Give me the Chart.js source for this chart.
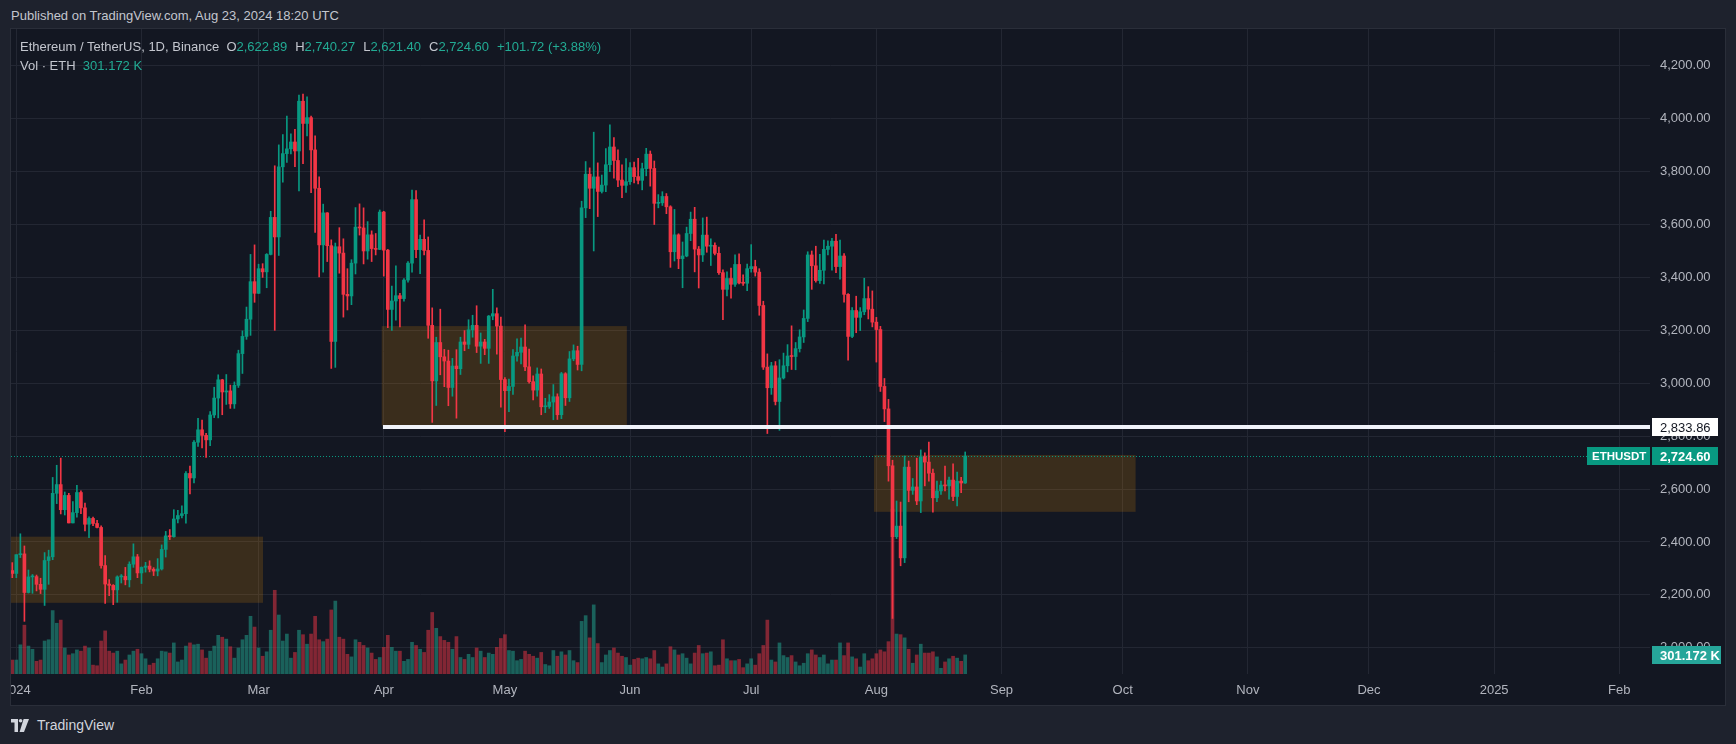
<!DOCTYPE html>
<html>
<head>
<meta charset="utf-8">
<title>ETHUSDT 1D</title>
<script src="https://cdn.jsdelivr.net/npm/chart.js@4.4.1/dist/chart.umd.min.js"></script>
<style>
  html, body { margin: 0; padding: 0; background: #1e222d; }
  body { width: 1736px; height: 744px; position: relative; overflow: hidden;
         font-family: "Liberation Sans", Arial, sans-serif; color: #c3c6ce; }
  #pub { position: absolute; left: 11px; top: 7px; font-size: 13px; line-height: 18px; color: #c3c6ce; }
  #pane { position: absolute; left: 10px; top: 28px; width: 1714px; height: 676px;
          background: #131722; border: 1px solid #2a2e39; }
  #pane canvas { position: absolute; left: 0; top: 0; }
  .row { position: absolute; left: 9px; font-size: 13px; line-height: 18px; white-space: nowrap; color: #c3c6ce; }
  .row .v { color: #22ab94; margin-right: 8px; }
  #legend { top: 9px; }
  #vol { top: 28px; }
  #footer { position: absolute; left: 11px; top: 716px; height: 18px; display: flex; align-items: center;
            font-size: 14px; color: #d1d4dc; }
  #footer svg { margin-right: 8px; }
</style>
</head>
<body>
<div id="pub">Published on TradingView.com, Aug 23, 2024 18:20 UTC</div>
<div id="pane">
  <canvas id="ethChart" width="1714" height="676"></canvas>
  <div class="row" id="legend">Ethereum / TetherUS, 1D, Binance&nbsp;&nbsp;O<span class="v">2,622.89</span>H<span class="v">2,740.27</span>L<span class="v">2,621.40</span>C<span class="v">2,724.60</span><span class="v">+101.72 (+3.88%)</span></div>
  <div class="row" id="vol">Vol · ETH&nbsp;&nbsp;<span class="v">301.172 K</span></div>
</div>
<div id="footer">
  <svg width="18" height="13" viewBox="0 0 18 13">
    <path d="M0 0h7v13H3.5V3.5H0z" fill="#d1d4dc"/>
    <circle cx="9.6" cy="1.8" r="1.8" fill="#d1d4dc"/>
    <path d="M12.6 0H18l-5 13H8.6z" fill="#d1d4dc"/>
  </svg>
  <span>TradingView</span>
</div>

<script>
// daily candles, day 0 = 2023-12-31, last = 2024-08-23
const opens = [
  2292, 2281, 2352, 2355, 2209, 2268, 2269, 2240, 2221, 2330, 2344, 2584, 2617, 2522, 2576, 2472, 2511, 2587, 2529, 2467,
  2489, 2470, 2455, 2311, 2241, 2236, 2219, 2268, 2270, 2257, 2316, 2344, 2283, 2304, 2309, 2297, 2290, 2298, 2372, 2423,
  2420, 2487, 2500, 2507, 2659, 2642, 2777, 2824, 2803, 2786, 2880, 2944, 3013, 2967, 2971, 2922, 2992, 3112, 3177, 3242,
  3384, 3340, 3433, 3421, 3487, 3627, 3553, 3818, 3868, 3886, 3912, 3878, 4066, 3982, 4004, 3882, 3737, 3523, 3644, 3520,
  3158, 3516, 3492, 3336, 3330, 3454, 3590, 3587, 3500, 3561, 3509, 3506, 3647, 3503, 3279, 3311, 3331, 3320, 3390, 3454,
  3694, 3505, 3544, 3502, 3219, 3009, 3154, 3100, 3084, 2984, 3065, 3055, 3156, 3147, 3202, 3219, 3140, 3156, 3132, 3254,
  3263, 3216, 3014, 2972, 2988, 3103, 3117, 3137, 3062, 3006, 2974, 3035, 2911, 2912, 2929, 2949, 2881, 3036, 2945, 3092,
  3123, 3071, 3663, 3790, 3737, 3780, 3725, 3749, 3826, 3893, 3842, 3768, 3748, 3762, 3815, 3781, 3767, 3811, 3866, 3812,
  3680, 3682, 3706, 3667, 3497, 3561, 3471, 3481, 3566, 3620, 3507, 3485, 3560, 3518, 3521, 3491, 3418, 3355, 3396, 3374,
  3449, 3379, 3378, 3433, 3441, 3420, 3294, 3061, 2983, 3066, 2931, 3020, 3066, 3103, 3101, 3131, 3175, 3245, 3485, 3444,
  3388, 3427, 3506, 3518, 3537, 3441, 3481, 3336, 3177, 3275, 3249, 3270, 3320, 3280, 3231, 3203, 2988, 2903, 2688, 2420,
  2460, 2340, 2683, 2595, 2608, 2555, 2722, 2702, 2660, 2567, 2593, 2615, 2612, 2634, 2572, 2630, 2622.89
];
const highs = [
  2322, 2352, 2431, 2385, 2294, 2277, 2275, 2263, 2360, 2369, 2644, 2690, 2717, 2589, 2584, 2553, 2614, 2593, 2547, 2495,
  2494, 2482, 2461, 2349, 2258, 2239, 2272, 2277, 2304, 2325, 2393, 2353, 2306, 2323, 2329, 2303, 2337, 2389, 2440, 2447,
  2522, 2520, 2537, 2666, 2687, 2783, 2867, 2861, 2811, 2893, 2985, 3032, 3015, 3033, 2993, 3005, 3125, 3198, 3288, 3487,
  3523, 3450, 3452, 3490, 3650, 3822, 3901, 3940, 4010, 3943, 3960, 4089, 4093, 4083, 4010, 3935, 3780, 3677, 3645, 3542,
  3530, 3588, 3546, 3433, 3467, 3664, 3678, 3663, 3611, 3576, 3566, 3655, 3650, 3506, 3367, 3444, 3340, 3396, 3460, 3730,
  3728, 3560, 3618, 3553, 3285, 3174, 3280, 3128, 3125, 3094, 3127, 3174, 3199, 3240, 3257, 3293, 3190, 3166, 3256, 3355,
  3285, 3250, 3021, 3016, 3127, 3168, 3171, 3221, 3129, 3028, 3058, 3054, 2943, 2957, 2995, 2960, 3041, 3040, 3120, 3145,
  3140, 3688, 3838, 3814, 3949, 3833, 3787, 3887, 3977, 3929, 3882, 3826, 3849, 3834, 3836, 3850, 3832, 3888, 3878, 3840,
  3713, 3724, 3717, 3671, 3657, 3565, 3534, 3590, 3647, 3665, 3517, 3625, 3628, 3546, 3531, 3515, 3429, 3421, 3435, 3485,
  3489, 3410, 3450, 3524, 3465, 3433, 3310, 3111, 3079, 3082, 3089, 3114, 3146, 3217, 3154, 3202, 3277, 3497, 3500, 3518,
  3487, 3541, 3538, 3548, 3563, 3541, 3490, 3339, 3286, 3329, 3286, 3397, 3365, 3349, 3249, 3215, 3018, 2939, 2709, 2555,
  2551, 2725, 2706, 2640, 2717, 2748, 2737, 2778, 2676, 2630, 2630, 2687, 2645, 2695, 2664, 2644, 2740.27
];
const lows = [
  2265, 2265, 2341, 2100, 2207, 2206, 2215, 2205, 2160, 2240, 2333, 2545, 2506, 2502, 2472, 2472, 2494, 2507, 2442, 2416,
  2462, 2453, 2301, 2168, 2197, 2163, 2172, 2245, 2238, 2230, 2304, 2265, 2243, 2286, 2287, 2273, 2272, 2294, 2343, 2409,
  2418, 2472, 2491, 2471, 2582, 2623, 2761, 2756, 2720, 2764, 2870, 2869, 2881, 2920, 2905, 2905, 2984, 3037, 3166, 3181,
  3306, 3339, 3400, 3361, 3485, 3200, 3483, 3760, 3835, 3867, 3819, 3727, 3830, 3935, 3720, 3570, 3402, 3420, 3460, 3056,
  3060, 3416, 3250, 3277, 3297, 3413, 3560, 3451, 3469, 3460, 3485, 3505, 3405, 3210, 3200, 3238, 3213, 3310, 3382, 3420,
  3475, 3414, 3485, 3170, 2852, 2916, 3032, 2987, 2915, 2951, 2868, 3033, 3123, 3131, 3174, 3116, 3075, 3108, 3075, 3240,
  3110, 2910, 2817, 2893, 2958, 3083, 3073, 3048, 3000, 2937, 2951, 2881, 2889, 2905, 2862, 2863, 2866, 2916, 2931, 3085,
  3050, 3047, 3626, 3660, 3500, 3630, 3719, 3724, 3800, 3775, 3743, 3701, 3721, 3752, 3757, 3753, 3731, 3784, 3745, 3600,
  3663, 3672, 3641, 3438, 3462, 3433, 3361, 3478, 3539, 3421, 3360, 3460, 3495, 3445, 3485, 3411, 3240, 3330, 3322, 3366,
  3375, 3370, 3350, 3420, 3405, 3257, 3052, 2810, 2958, 2918, 2822, 3016, 3043, 3052, 3051, 3118, 3154, 3233, 3355, 3382,
  3377, 3375, 3485, 3427, 3418, 3393, 3306, 3087, 3172, 3191, 3199, 3259, 3243, 3213, 3080, 2969, 2855, 2630, 2111, 2413,
  2310, 2322, 2552, 2580, 2541, 2511, 2612, 2630, 2513, 2552, 2580, 2593, 2562, 2556, 2536, 2586, 2621.40
];
const closes = [
  2281, 2352, 2355, 2209, 2268, 2269, 2240, 2221, 2330, 2344, 2584, 2617, 2522, 2576, 2472, 2511, 2587, 2529, 2467, 2489,
  2470, 2455, 2311, 2241, 2236, 2219, 2268, 2270, 2257, 2316, 2344, 2283, 2304, 2309, 2297, 2290, 2298, 2372, 2423, 2420,
  2487, 2500, 2507, 2659, 2642, 2777, 2824, 2803, 2786, 2880, 2944, 3013, 2967, 2971, 2922, 2992, 3112, 3177, 3242, 3384,
  3340, 3433, 3421, 3487, 3627, 3553, 3818, 3868, 3886, 3912, 3878, 4066, 3982, 4004, 3882, 3737, 3523, 3644, 3520, 3158,
  3516, 3492, 3336, 3330, 3454, 3590, 3587, 3500, 3561, 3509, 3506, 3647, 3503, 3279, 3311, 3331, 3320, 3390, 3454, 3694,
  3505, 3544, 3502, 3219, 3009, 3154, 3100, 3084, 2984, 3065, 3055, 3156, 3147, 3202, 3219, 3140, 3156, 3132, 3254, 3263,
  3216, 3014, 2972, 2988, 3103, 3117, 3137, 3062, 3006, 2974, 3035, 2911, 2912, 2929, 2949, 2881, 3036, 2945, 3092, 3123,
  3071, 3663, 3790, 3737, 3780, 3725, 3749, 3826, 3893, 3842, 3768, 3748, 3762, 3815, 3781, 3767, 3811, 3866, 3812, 3680,
  3682, 3706, 3667, 3497, 3561, 3471, 3481, 3566, 3620, 3507, 3485, 3560, 3518, 3521, 3491, 3418, 3355, 3396, 3374, 3449,
  3379, 3378, 3433, 3441, 3420, 3294, 3061, 2983, 3066, 2931, 3020, 3066, 3103, 3101, 3131, 3175, 3245, 3485, 3444, 3388,
  3427, 3506, 3518, 3537, 3441, 3481, 3336, 3177, 3275, 3249, 3270, 3320, 3280, 3231, 3203, 2988, 2903, 2688, 2420, 2460,
  2340, 2683, 2595, 2608, 2555, 2722, 2702, 2660, 2567, 2593, 2615, 2612, 2634, 2572, 2630, 2623, 2724.60
];
// volume in thousands of ETH
const volumes = [
  220, 220, 460, 770, 440, 390, 200, 220, 520, 540, 1000, 800, 850, 410, 300, 320, 380, 360, 440, 410,
  140, 130, 520, 680, 360, 330, 360, 160, 220, 300, 360, 390, 320, 240, 140, 170, 240, 360, 350, 330,
  490, 190, 220, 440, 490, 460, 470, 380, 250, 360, 440, 610, 580, 550, 430, 250, 410, 540, 610, 910,
  740, 410, 280, 350, 690, 1320, 930, 520, 630, 250, 340, 690, 620, 470, 630, 910, 540, 510, 550, 1010,
  1150, 580, 550, 310, 270, 540, 500, 450, 410, 330, 230, 260, 420, 610, 420, 360, 360, 200, 230, 500,
  450, 390, 340, 690, 970, 720, 590, 530, 500, 390, 590, 260, 230, 310, 260, 410, 360, 260, 330, 310,
  420, 560, 620, 370, 360, 210, 230, 360, 310, 280, 250, 340, 150, 130, 370, 280, 350, 300, 370, 210,
  180, 830, 920, 570, 1090, 480, 180, 300, 370, 410, 330, 280, 260, 140, 230, 250, 240, 260, 240, 370,
  160, 110, 160, 430, 380, 300, 320, 250, 160, 330, 450, 320, 330, 350, 130, 140, 540, 240, 210, 210,
  230, 100, 160, 240, 140, 320, 450, 850, 220, 190, 490, 290, 260, 290, 190, 130, 170, 320, 380, 300,
  260, 300, 160, 220, 220, 490, 290, 490, 270, 240, 110, 320, 210, 240, 320, 380, 350, 510, 2600, 630,
  620, 570, 390, 170, 300, 470, 330, 330, 350, 270, 90, 190, 240, 280, 250, 200, 301.172
];

// x axis: month starts as day index
const monthTicks = [1, 32, 61, 92, 122, 153, 183, 214, 245, 275, 306, 336, 367, 398];
const monthLabels = ["2024", "Feb", "Mar", "Apr", "May", "Jun", "Jul", "Aug", "Sep", "Oct", "Nov", "Dec", "2025", "Feb"];
const priceTicks = [2000, 2200, 2400, 2600, 2800, 3000, 3200, 3400, 3600, 3800, 4000, 4200];

// drawn zones (day index / price)
const zoneFrom = [-10, 91.5, 213.4];
const zoneTo = [62.1, 152.2, 278.2];
const zoneTop = [2420, 3216, 2729];
const zoneBottom = [2170, 2840, 2514];
const levelPrice = 2833.86;
const levelFrom = 91.8;

const UP = "#089981";
const DOWN = "#f23645";
const FONT = '"Liberation Sans", Arial, sans-serif';

Chart.defaults.font.family = FONT;

const isUp = closes.map((c, i) => c >= opens[i]);
const candleColors = isUp.map((u) => (u ? UP : DOWN));
const volColors = isUp.map((u) => (u ? "rgba(34,171,148,0.5)" : "rgba(242,54,69,0.5)"));

function fmt(v) {
  return v.toLocaleString("en-US", { minimumFractionDigits: 2, maximumFractionDigits: 2 });
}

function tag(ctx, x, yc, w, bg, fg, text, font, pad) {
  ctx.fillStyle = bg;
  ctx.fillRect(x, Math.round(yc) - 9, w, 18);
  ctx.fillStyle = fg;
  ctx.font = font + " " + FONT;
  ctx.textBaseline = "middle";
  ctx.textAlign = "left";
  ctx.fillText(text, x + pad, Math.round(yc) + 1);
}

const overlay = {
  id: "overlay",
  beforeDatasetsDraw(chart) {
    const { ctx, chartArea: a, scales } = chart;
    const x = scales.x, y = scales.y;
    ctx.save();
    ctx.beginPath();
    ctx.rect(a.left, a.top, a.right - a.left, a.bottom - a.top);
    ctx.clip();
    ctx.fillStyle = "rgba(255,152,0,0.17)";
    zoneFrom.forEach((f, i) => {
      const x0 = x.getPixelForValue(f);
      const x1 = x.getPixelForValue(zoneTo[i]);
      const y0 = y.getPixelForValue(zoneTop[i]);
      const y1 = y.getPixelForValue(zoneBottom[i]);
      ctx.fillRect(x0, y0, x1 - x0, y1 - y0);
    });
    // last price line
    const yl = Math.round(y.getPixelForValue(closes[closes.length - 1])) + 0.5;
    ctx.strokeStyle = UP;
    ctx.lineWidth = 1;
    ctx.setLineDash([1, 2]);
    ctx.beginPath();
    ctx.moveTo(a.left, yl);
    ctx.lineTo(a.right, yl);
    ctx.stroke();
    ctx.restore();
  },
  afterDatasetsDraw(chart) {
    const { ctx, chartArea: a, scales } = chart;
    const yy = scales.y.getPixelForValue(levelPrice);
    ctx.save();
    ctx.fillStyle = "#f0f3fa";
    const x0 = scales.x.getPixelForValue(levelFrom);
    ctx.fillRect(x0, Math.round(yy) - 2, a.right - x0, 4);
    ctx.restore();
  },
  afterDraw(chart) {
    const { ctx, chartArea: a, scales } = chart;
    ctx.save();
    const last = closes[closes.length - 1];
    tag(ctx, a.right + 2, scales.y.getPixelForValue(levelPrice), 66, "#ffffff", "#131722", fmt(levelPrice), "13px", 8);
    const yl = scales.y.getPixelForValue(last);
    tag(ctx, a.right - 63, yl, 63, UP, "#ffffff", "ETHUSDT", "bold 11.5px", 5);
    tag(ctx, a.right + 2, yl, 66, UP, "#ffffff", fmt(last), "bold 13px", 8);
    const vl = volumes[volumes.length - 1];
    tag(ctx, a.right + 2, scales.yv.getPixelForValue(vl), 69, "#26a69a", "#ffffff", vl.toFixed(3) + " K", "bold 13px", 8);
    ctx.restore();
  },
};

const ctx = document.getElementById("ethChart").getContext("2d");
const ethChart = new Chart(ctx, {
  type: "bar",
  data: {
    datasets: [
      {
        // candle bodies
        data: opens.map((o, i) => ({ x: i, y: [o, closes[i]] })),
        backgroundColor: candleColors,
        barThickness: 3,
        minBarLength: 1,
        grouped: false,
        order: 1,
      },
      {
        // wicks
        data: lows.map((l, i) => ({ x: i, y: [l, highs[i]] })),
        backgroundColor: candleColors,
        barThickness: 1,
        grouped: false,
        order: 2,
      },
      {
        // volume
        data: volumes.map((v, i) => ({ x: i, y: v })),
        backgroundColor: volColors,
        barThickness: 3,
        grouped: false,
        yAxisID: "yv",
        order: 3,
      },
    ],
  },
  options: {
    responsive: false,
    animation: false,
    devicePixelRatio: 1,
    layout: { padding: 0 },
    plugins: {
      legend: { display: false },
      tooltip: { enabled: false },
    },
    scales: {
      x: {
        type: "linear",
        min: -0.32,
        max: 405.6,
        offset: false,
        grid: { color: "#232733", drawTicks: false, offset: false },
        border: { display: false },
        ticks: {
          color: "#b2b5be",
          font: { size: 13 },
          padding: 9,
          maxRotation: 0,
          autoSkip: false,
          callback: (value, index) => monthLabels[index],
        },
        afterBuildTicks: (axis) => {
          axis.ticks = monthTicks.map((v) => ({ value: v }));
        },
        afterFit: (axis) => {
          axis.height = 31;
          axis.paddingLeft = 0;
          axis.paddingRight = 0;
        },
      },
      y: {
        position: "right",
        min: 1901,
        max: 4339,
        grid: { color: "#232733", drawTicks: false },
        border: { display: false },
        ticks: {
          color: "#b2b5be",
          font: { size: 13 },
          padding: 10,
          autoSkip: false,
          callback: (v) => fmt(v),
        },
        afterBuildTicks: (axis) => {
          axis.ticks = priceTicks.map((v) => ({ value: v }));
        },
        afterFit: (axis) => {
          axis.width = 75;
          axis.paddingTop = 0;
          axis.paddingBottom = 0;
        },
      },
      yv: {
        display: false,
        min: 0,
        max: 10170,
      },
    },
  },
  plugins: [overlay],
});
</script>
</body>
</html>
